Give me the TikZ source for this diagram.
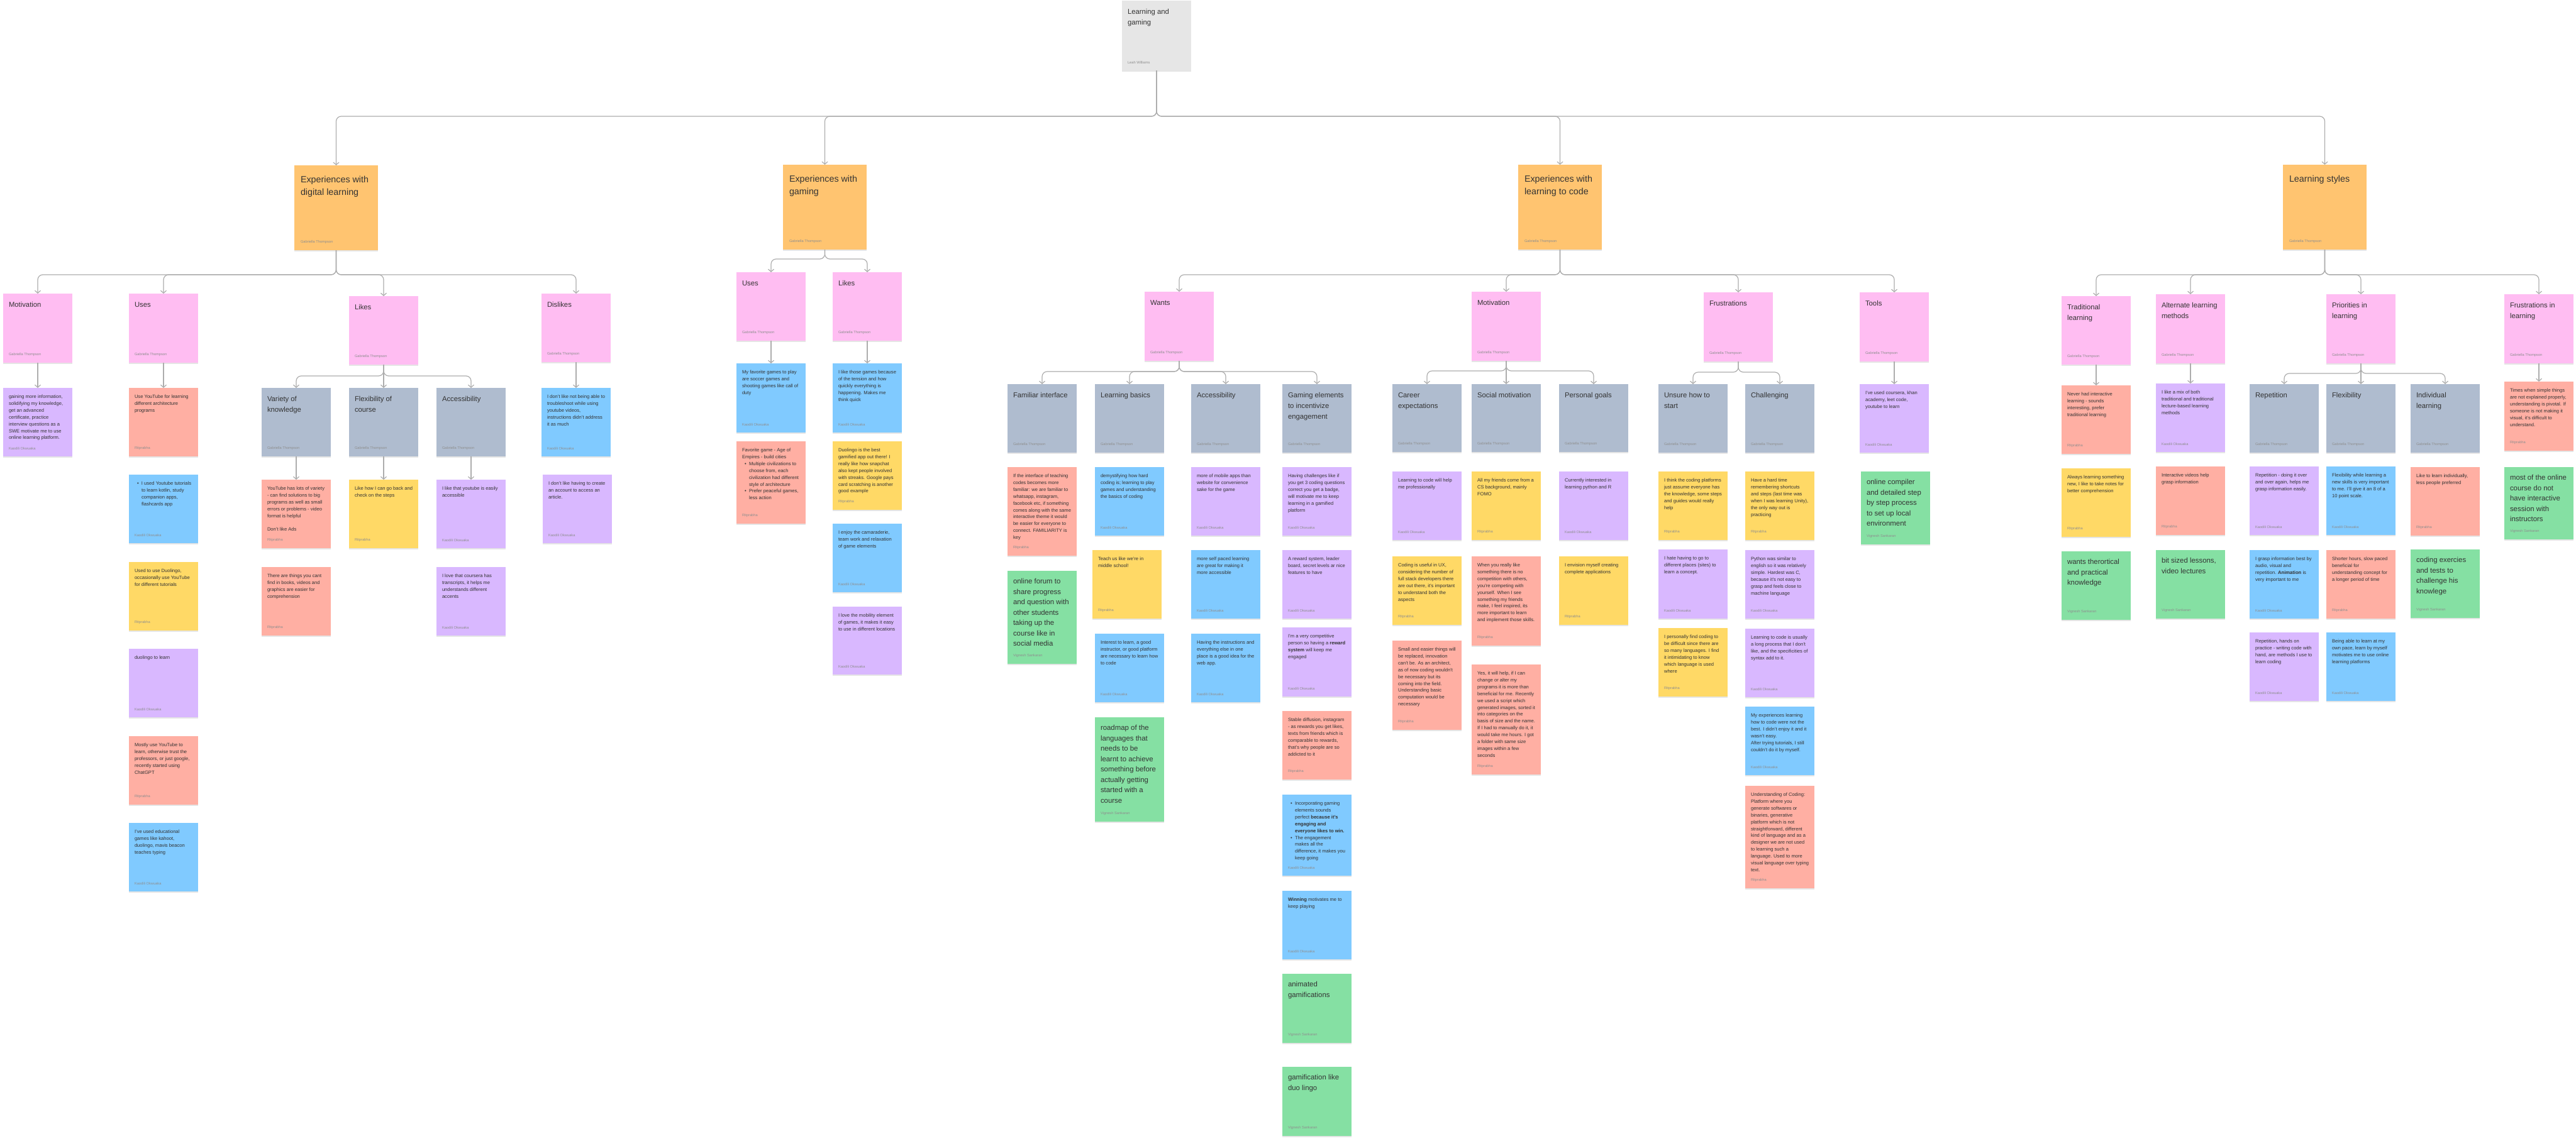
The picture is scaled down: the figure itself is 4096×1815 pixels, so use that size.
\documentclass[tikz,border=0pt]{standalone}
\usepackage{fontspec}
\setmainfont{Liberation Sans}
\usetikzlibrary{arrows.meta,shadows}

\definecolor{cgray}{HTML}{E6E6E6}
\definecolor{corange}{HTML}{FFC470}
\definecolor{cpink}{HTML}{FFBDF2}
\definecolor{cslate}{HTML}{AFBCCF}
\definecolor{cred}{HTML}{FFAFA3}
\definecolor{cyellow}{HTML}{FFD966}
\definecolor{cviolet}{HTML}{D9B8FF}
\definecolor{cblue}{HTML}{80CAFF}
\definecolor{cgreen}{HTML}{85E0A3}
\definecolor{cline}{HTML}{ADADAD}
\definecolor{ctext}{HTML}{333333}
\definecolor{cauthor}{HTML}{8F8F8F}

\newcommand{\bodyfont}{\fontsize{7.6pt}{10.9pt}\selectfont}
\newcommand{\headfont}{\fontsize{11.3pt}{16.7pt}\selectfont}
\newcommand{\greenfont}{\fontsize{11.4pt}{16.5pt}\selectfont}
\newcommand{\topfont}{\fontsize{14.3pt}{20pt}\selectfont}
\newcommand{\authorfont}{\fontsize{5.7pt}{6.5pt}\selectfont\color{cauthor}}

\newcommand{\nt}[3]{\parbox[c][#1pt][s]{92pt}{\raggedright\bodyfont\vspace*{11pt}#2\par\vfill{\authorfont #3\par}\vspace*{10pt}}}
\newcommand{\hd}[3]{\parbox[c][#1pt][s]{92pt}{\raggedright\headfont\vspace*{13.5pt}#2\par\vfill{\authorfont #3\par}\vspace*{10pt}}}
\newcommand{\gn}[3]{\parbox[c][#1pt][s]{92pt}{\raggedright\greenfont\vspace*{12.5pt}#2\par\vfill{\authorfont #3\par}\vspace*{10pt}}}
\newcommand{\tp}[3]{\parbox[c][#1pt][s]{113pt}{\raggedright\topfont\vspace*{17pt}#2\par\vfill{\authorfont #3\par}\vspace*{10pt}}}
\newcommand{\bul}[1]{\par\hangindent=11pt\hangafter=1\noindent\hbox to 11pt{\hskip4pt\textbullet\hss}#1}

\begin{document}
\begin{tikzpicture}[x=1pt,y=-1pt,
    note/.style={anchor=north west, inner xsep=9pt, inner ysep=0pt, outer sep=0pt, text=ctext,
      drop shadow={shadow xshift=0pt, shadow yshift=-1.5pt, fill=black, opacity=0.1}},
    topnote/.style={note, inner xsep=10pt},
    conn/.style={draw=cline, line width=1.2pt, rounded corners=8pt,
      -{Straight Barb[length=4pt,width=9pt]}}]
    \path[fill=white, use as bounding box] (0,0) rectangle (4096,1815);
    \def\ka{Kaodili Okwuaka}
    \def\ri{Ritprabha}
    \def\vi{Vignesh Sankaran}
    \def\ga{Gabriella Thompson}

    % root and first level
    \node[note, fill=cgray] (A0_0) at (1784,1) {\hd{111}{Learning and\\gaming}{Leah Williams}};
    \node[topnote, fill=corange] (A1_0) at (468,263) {\tp{135}{Experiences with\\digital learning}{\ga}};
    \node[topnote, fill=corange] (A1_1) at (1245,262) {\tp{135}{Experiences with\\gaming}{\ga}};
    \node[topnote, fill=corange] (A1_2) at (2414,262) {\tp{135}{Experiences with\\learning to code}{\ga}};
    \node[topnote, fill=corange] (A1_3) at (3630,262) {\tp{135}{Learning styles}{\ga}};

    % second level
    \node[note, fill=cpink] (A2_0) at (5,467) {\hd{110}{Motivation}{\ga}};
    \node[note, fill=cpink] (A2_1) at (205,467) {\hd{110}{Uses}{\ga}};
    \node[note, fill=cpink] (A2_2) at (555,471) {\hd{109}{Likes}{\ga}};
    \node[note, fill=cpink] (A2_3) at (861,467) {\hd{109}{Dislikes}{\ga}};
    \node[note, fill=cpink] (A2_4) at (1171,433) {\hd{109}{Uses}{\ga}};
    \node[note, fill=cpink] (A2_5) at (1324,433) {\hd{109}{Likes}{\ga}};
    \node[note, fill=cpink] (A2_6) at (1820,464) {\hd{110}{Wants}{\ga}};
    \node[note, fill=cpink] (A2_7) at (2340,464) {\hd{110}{Motivation}{\ga}};
    \node[note, fill=cpink] (A2_8) at (2709,465) {\hd{110}{Frustrations}{\ga}};
    \node[note, fill=cpink] (A2_9) at (2957,465) {\hd{110}{Tools}{\ga}};
    \node[note, fill=cpink] (A2_10) at (3278,471) {\hd{109}{Traditional\\learning}{\ga}};
    \node[note, fill=cpink] (A2_11) at (3428,468) {\hd{110}{Alternate learning\\methods}{\ga}};
    \node[note, fill=cpink] (A2_12) at (3699,468) {\hd{110}{Priorities in\\learning}{\ga}};
    \node[note, fill=cpink] (A2_13) at (3982,468) {\hd{110}{Frustrations in\\learning}{\ga}};

    % third level
    \node[note, fill=cslate] (A3_0) at (416,617) {\hd{109}{Variety of\\knowledge}{\ga}};
    \node[note, fill=cslate] (A3_1) at (555,617) {\hd{109}{Flexibility of\\course}{\ga}};
    \node[note, fill=cslate] (A3_2) at (694,617) {\hd{109}{Accessibility}{\ga}};
    \node[note, fill=cslate] (A3_3) at (1602,611) {\hd{109}{Familiar interface}{\ga}};
    \node[note, fill=cslate] (A3_4) at (1741,611) {\hd{109}{Learning basics}{\ga}};
    \node[note, fill=cslate] (A3_5) at (1894,611) {\hd{109}{Accessibility}{\ga}};
    \node[note, fill=cslate] (A3_6) at (2039,611) {\hd{109}{Gaming elements\\to incentivize\\engagement}{\ga}};
    \node[note, fill=cslate] (A3_7) at (2214,611) {\hd{108}{Career\\expectations}{\ga}};
    \node[note, fill=cslate] (A3_8) at (2340,611) {\hd{108}{Social motivation}{\ga}};
    \node[note, fill=cslate] (A3_9) at (2479,611) {\hd{108}{Personal goals}{\ga}};
    \node[note, fill=cslate] (A3_10) at (2637,611) {\hd{109}{Unsure how to\\start}{\ga}};
    \node[note, fill=cslate] (A3_11) at (2775,611) {\hd{109}{Challenging}{\ga}};
    \node[note, fill=cslate] (A3_12) at (3577,611) {\hd{109}{Repetition}{\ga}};
    \node[note, fill=cslate] (A3_13) at (3699,611) {\hd{109}{Flexibility}{\ga}};
    \node[note, fill=cslate] (A3_14) at (3833,611) {\hd{109}{Individual\\learning}{\ga}};

    % digital learning notes
    \node[note, fill=cviolet] (N0_0) at (5,617) {\nt{109}{gaining more information, solidifying my knowledge, get an advanced certificate, practice interview questions as a SWE motivate me to use online learning platform.}{\ka}};
    \node[note, fill=cred] (N1_0) at (205,617) {\nt{109}{Use YouTube for learning different architecture programs}{\ri}};
    \node[note, fill=cblue] (N1_1) at (205,755) {\nt{109}{\bul{I used Youtube tutorials to learn kotlin, study companion apps, flashcards app}}{\ka}};
    \node[note, fill=cyellow] (N1_2) at (205,894) {\nt{109}{Used to use Duolingo, occasionally use YouTube for different tutorials}{\ri}};
    \node[note, fill=cviolet] (N1_3) at (205,1032) {\nt{109}{duolingo to learn}{\ka}};
    \node[note, fill=cred] (N1_4) at (205,1171) {\nt{109}{Mostly use YouTube to learn, otherwise trust the professors, or just google, recently started using ChatGPT}{\ri}};
    \node[note, fill=cblue] (N1_5) at (205,1309) {\nt{109}{I've used educational games like kahoot, duolingo, mavis beacon teaches typing}{\ka}};
    \node[note, fill=cred] (N2_0) at (416,763) {\nt{109}{YouTube has lots of variety - can find solutions to big programs as well as small errors or problems - video format is helpful\par\vspace{10.9pt}Don't like Ads}{\ri}};
    \node[note, fill=cred] (N2_1) at (416,902) {\nt{109}{There are things you cant find in books, videos and graphics are easier for comprehension}{\ri}};
    \node[note, fill=cyellow] (N3_0) at (555,763) {\nt{109}{Like how I can go back and check on the steps}{\ri}};
    \node[note, fill=cviolet] (N4_0) at (694,763) {\nt{109}{I like that youtube is easily accessible}{\ka}};
    \node[note, fill=cviolet] (N4_1) at (694,902) {\nt{109}{I love that coursera has transcripts, it helps me understands different accents}{\ka}};
    \node[note, fill=cblue] (N5_0) at (861,617) {\nt{109}{I don't like not being able to troubleshoot while using youtube videos, instructions didn't address it as much}{\ka}};
    \node[note, fill=cviolet] (N5_1) at (863,755) {\nt{109}{I don't like having to create an account to access an article.}{\ka}};

    % gaming notes
    \node[note, fill=cblue] (N6_0) at (1171,578) {\nt{110}{My favorite games to play are soccer games and shooting games like call of duty}{\ka}};
    \node[note, fill=cred] (N6_1) at (1171,702) {\nt{131}{Favorite game - Age of Empires - build cities\bul{Multiple civilizations to choose from, each civilization had different style of architecture}\bul{Prefer peaceful games, less action}}{\ri}};
    \node[note, fill=cblue] (N7_0) at (1324,578) {\nt{110}{I like those games because of the tension and how quickly everything is happening. Makes me think quick}{\ka}};
    \node[note, fill=cyellow] (N7_1) at (1324,702) {\nt{109}{Duolingo is the best gamified app out there! I really like how snapchat also kept people involved with streaks. Google pays card scratching is another good example}{\ri}};
    \node[note, fill=cblue] (N7_2) at (1324,833) {\nt{109}{I enjoy the camaraderie, team work and relaxation of game elements}{\ka}};
    \node[note, fill=cviolet] (N7_3) at (1324,965) {\nt{108}{I love the mobility element of games, it makes it easy to use in different locations}{\ka}};

    % learning to code notes
    \node[note, fill=cred] (N8_0) at (1602,743) {\nt{141}{If the interface of teaching codes becomes more familiar: we are familiar to whatsapp, instagram, facebook etc, if something comes along with the same interactive theme it would be easier for everyone to connect. FAMILIARITY is key}{\ri}};
    \node[note, fill=cgreen] (N8_1) at (1602,908) {\gn{148}{online forum to\\share progress\\and question with\\other students\\taking up the\\course like in\\social media}{\vi}};
    \node[note, fill=cblue] (N9_0) at (1741,743) {\nt{109}{demystifying how hard coding is; learning to play games and understanding the basics of coding}{\ka}};
    \node[note, fill=cyellow] (N9_1) at (1737,875) {\nt{109}{Teach us like we're in middle school!}{\ri}};
    \node[note, fill=cblue] (N9_2) at (1741,1008) {\nt{109}{Interest to learn, a good instructor, or good platform are necessary to learn how to code}{\ka}};
    \node[note, fill=cgreen] (N9_3) at (1741,1141) {\gn{166}{roadmap of the\\languages that\\needs to be\\learnt to achieve\\something before\\actually getting\\started with a\\course}{\vi}};
    \node[note, fill=cviolet] (N10_0) at (1894,743) {\nt{109}{more of mobile apps than website for convenience sake for the game}{\ka}};
    \node[note, fill=cblue] (N10_1) at (1894,875) {\nt{109}{more self paced learning are great for making it more accessible}{\ka}};
    \node[note, fill=cblue] (N10_2) at (1894,1008) {\nt{109}{Having the instructions and everything else in one place is a good idea for the web app.}{\ka}};
    \node[note, fill=cviolet] (N11_0) at (2039,743) {\nt{109}{Having challenges like if you get 3 coding questions correct you get a badge, will motivate me to keep learning in a gamified platform}{\ka}};
    \node[note, fill=cviolet] (N11_1) at (2039,875) {\nt{109}{A reward system, leader board, secret levels ar nice features to have}{\ka}};
    \node[note, fill=cviolet] (N11_2) at (2039,998) {\nt{110}{I'm a very competitive person so having a \textbf{reward system} will keep me engaged}{\ka}};
    \node[note, fill=cred] (N11_3) at (2039,1131) {\nt{109}{Stable diffusion, instagram - as rewards you get likes, texts from friends which is comparable to rewards, that's why people are so addicted to it}{\ri}};
    \node[note, fill=cblue] (N11_4) at (2039,1264) {\nt{129}{\bul{Incorporating gaming elements sounds perfect \textbf{because it's engaging and everyone likes to win.}}\bul{The engagement makes all the difference, it makes you keep going}}{\ka}};
    \node[note, fill=cblue] (N11_5) at (2039,1417) {\nt{109}{\textbf{Winning} motivates me to keep playing}{\ka}};
    \node[note, fill=cgreen] (N11_6) at (2039,1549) {\gn{110}{animated\\gamifications}{\vi}};
    \node[note, fill=cgreen] (N11_7) at (2039,1697) {\gn{110}{gamification like\\duo lingo}{\vi}};
    \node[note, fill=cviolet] (N12_0) at (2214,750) {\nt{109}{Learning to code will help me professionally}{\ka}};
    \node[note, fill=cyellow] (N12_1) at (2214,885) {\nt{109}{Coding is useful in UX, considering the number of full stack developers there are out there, it's important to understand both the aspects}{\ri}};
    \node[note, fill=cred] (N12_2) at (2214,1019) {\nt{142}{Small and easier things will be replaced, innovation can't be. As an architect, as of now coding wouldn't be necessary but its coming into the field. Understanding basic computation would be necessary}{\ri}};
    \node[note, fill=cyellow] (N13_0) at (2340,750) {\nt{109}{All my friends come from a CS background, mainly FOMO}{\ri}};
    \node[note, fill=cred] (N13_1) at (2340,885) {\nt{142}{When you really like something there is no competition with others, you're competing with yourself. When I see something my friends make, I feel inspired, its more important to learn and implement those skills.}{\ri}};
    \node[note, fill=cred] (N13_2) at (2340,1057) {\nt{175}{Yes, it will help, if I can change or alter my programs it is more than beneficial for me. Recently we used a script which generated images, sorted it into categories on the basis of size and the name. If I had to manually do it, it would take me hours. I got a folder with same size images within a few seconds}{\ri}};
    \node[note, fill=cviolet] (N14_0) at (2479,750) {\nt{109}{Currently interested in learning python and R}{\ka}};
    \node[note, fill=cyellow] (N14_1) at (2479,885) {\nt{109}{I envision myself creating complete applications}{\ri}};
    \node[note, fill=cyellow] (N15_0) at (2637,750) {\nt{109}{I think the coding platforms just assume everyone has the knowledge, some steps and guides would really help}{\ri}};
    \node[note, fill=cviolet] (N15_1) at (2637,874) {\nt{110}{I hate having to go to different places (sites) to learn a concept.}{\ka}};
    \node[note, fill=cyellow] (N15_2) at (2637,999) {\nt{109}{I personally find coding to be difficult since there are so many languages. I find it intimidating to know which language is used where}{\ri}};
    \node[note, fill=cyellow] (N16_0) at (2775,750) {\nt{109}{Have a hard time remembering shortcuts and steps (last time was when I was learning Unity), the only way out is practicing}{\ri}};
    \node[note, fill=cviolet] (N16_1) at (2775,875) {\nt{109}{Python was similar to english so it was relatively simple. Hardest was C, because it's not easy to grasp and feels close to machine language}{\ka}};
    \node[note, fill=cviolet] (N16_2) at (2775,1000) {\nt{109}{Learning to code is usually a long process that I don't like, and the specificities of syntax add to it.}{\ka}};
    \node[note, fill=cblue] (N16_3) at (2775,1124) {\nt{109}{My experiences learning how to code were not the best. I didn't enjoy it and it wasn't easy.\par After trying tutorials, I still couldn't do it by myself.}{\ka}};
    \node[note, fill=cred] (N16_4) at (2775,1250) {\nt{163}{Understanding of Coding: Platform where you generate softwares or binaries, generative platform which is not straightforward, different kind of language and as a designer we are not used to learning such a language. Used to more visual language over typing text.}{\ri}};
    \node[note, fill=cviolet] (N17_0) at (2957,611) {\nt{109}{I've used coursera, khan academy, leet code, youtube to learn}{\ka}};
    \node[note, fill=cgreen] (N17_1) at (2959,750) {\gn{116}{online compiler\\and detailed step\\by step process\\to set up local\\environment}{\vi}};

    % learning styles notes
    \node[note, fill=cred] (N18_0) at (3278,613) {\nt{109}{Never had interactive learning - sounds interesting, prefer traditional learning}{\ri}};
    \node[note, fill=cyellow] (N18_1) at (3278,745) {\nt{109}{Always learning something new, I like to take notes for better comprehension}{\ri}};
    \node[note, fill=cgreen] (N18_2) at (3278,877) {\gn{109}{wants therortical\\and practical\\knowledge}{\vi}};
    \node[note, fill=cviolet] (N19_0) at (3428,610) {\nt{109}{I like a mix of both traditional and traditional lecture-based learning methods}{\ka}};
    \node[note, fill=cred] (N19_1) at (3428,742) {\nt{109}{Interactive videos help grasp information}{\ri}};
    \node[note, fill=cgreen] (N19_2) at (3428,875) {\gn{109}{bit sized lessons,\\video lectures}{\vi}};
    \node[note, fill=cviolet] (N20_0) at (3577,742) {\nt{109}{Repetition - doing it over and over again, helps me grasp information easily.}{\ka}};
    \node[note, fill=cblue] (N20_1) at (3577,875) {\nt{109}{I grasp information best by audio, visual and repetition. \textbf{Animation} is very important to me}{\ka}};
    \node[note, fill=cviolet] (N20_2) at (3577,1006) {\nt{109}{Repetition, hands on practice - writing code with hand, are methods I use to learn coding}{\ka}};
    \node[note, fill=cblue] (N21_0) at (3699,742) {\nt{109}{Flexibility while learning a new skills is very important to me. I'll give it an 8 of a 10 point scale.}{\ka}};
    \node[note, fill=cred] (N21_1) at (3699,875) {\nt{109}{Shorter hours, slow paced beneficial for understanding concept for a longer period of time}{\ri}};
    \node[note, fill=cblue] (N21_2) at (3699,1006) {\nt{109}{Being able to learn at my own pace, learn by myself motivates me to use online learning platforms}{\ka}};
    \node[note, fill=cred] (N22_0) at (3833,743) {\nt{109}{Like to learn individually, less people preferred}{\ri}};
    \node[note, fill=cgreen] (N22_1) at (3833,874) {\gn{109}{coding exercies\\and tests to\\challenge his\\knowlege}{\vi}};
    \node[note, fill=cred] (N23_0) at (3982,607) {\nt{110}{Times when simple things are not explained properly, understanding is pivotal. If someone is not making it visual, it's difficult to understand.}{\ri}};
    \node[note, fill=cgreen] (N23_1) at (3982,743) {\gn{115}{most of the online\\course do not\\have interactive\\session with\\instructors}{\vi}};

    % branch points
    \coordinate (J0_0) at (1839,185);
    \coordinate (J1_0) at (534.5,437);
    \coordinate (J1_1) at (1311.5,412);
    \coordinate (J1_2) at (2480.5,437);
    \coordinate (J1_3) at (3696.5,437);
    \coordinate (J2_2) at (610,598);
    \coordinate (J2_6) at (1875,591);
    \coordinate (J2_7) at (2395,590);
    \coordinate (J2_8) at (2764,592);
    \coordinate (J2_12) at (3754,594);

    % connectors
    \draw[conn] (A0_0.south) -- (J0_0) -| (A1_0.north);
    \draw[conn] (A0_0.south) -- (J0_0) -| (A1_1.north);
    \draw[conn] (A0_0.south) -- (J0_0) -| (A1_2.north);
    \draw[conn] (A0_0.south) -- (J0_0) -| (A1_3.north);
    \draw[conn] (A1_0.south) -- (J1_0) -| (A2_0.north);
    \draw[conn] (A1_0.south) -- (J1_0) -| (A2_1.north);
    \draw[conn] (A1_0.south) -- (J1_0) -| (A2_2.north);
    \draw[conn] (A1_0.south) -- (J1_0) -| (A2_3.north);
    \draw[conn] (A1_1.south) -- (J1_1) -| (A2_4.north);
    \draw[conn] (A1_1.south) -- (J1_1) -| (A2_5.north);
    \draw[conn] (A1_2.south) -- (J1_2) -| (A2_6.north);
    \draw[conn] (A1_2.south) -- (J1_2) -| (A2_7.north);
    \draw[conn] (A1_2.south) -- (J1_2) -| (A2_8.north);
    \draw[conn] (A1_2.south) -- (J1_2) -| (A2_9.north);
    \draw[conn] (A1_3.south) -- (J1_3) -| (A2_10.north);
    \draw[conn] (A1_3.south) -- (J1_3) -| (A2_11.north);
    \draw[conn] (A1_3.south) -- (J1_3) -| (A2_12.north);
    \draw[conn] (A1_3.south) -- (J1_3) -| (A2_13.north);
    \draw[conn] (A2_2.south) -- (J2_2) -| (A3_0.north);
    \draw[conn] (A2_2.south) -- (A3_1.north);
    \draw[conn] (A2_2.south) -- (J2_2) -| (A3_2.north);
    \draw[conn] (A2_6.south) -- (J2_6) -| (A3_3.north);
    \draw[conn] (A2_6.south) -- (J2_6) -| (A3_4.north);
    \draw[conn] (A2_6.south) -- (J2_6) -| (A3_5.north);
    \draw[conn] (A2_6.south) -- (J2_6) -| (A3_6.north);
    \draw[conn] (A2_7.south) -- (J2_7) -| (A3_7.north);
    \draw[conn] (A2_7.south) -- (A3_8.north);
    \draw[conn] (A2_7.south) -- (J2_7) -| (A3_9.north);
    \draw[conn] (A2_8.south) -- (J2_8) -| (A3_10.north);
    \draw[conn] (A2_8.south) -- (J2_8) -| (A3_11.north);
    \draw[conn] (A2_12.south) -- (J2_12) -| (A3_12.north);
    \draw[conn] (A2_12.south) -- (A3_13.north);
    \draw[conn] (A2_12.south) -- (J2_12) -| (A3_14.north);
    \draw[conn] (A2_0.south) -- (N0_0.north);
    \draw[conn] (A2_1.south) -- (N1_0.north);
    \draw[conn] (A3_0.south) -- (N2_0.north);
    \draw[conn] (A3_1.south) -- (N3_0.north);
    \draw[conn] (A3_2.south) -- (N4_0.north);
    \draw[conn] (A2_3.south) -- (N5_0.north);
    \draw[conn] (A2_4.south) -- (N6_0.north);
    \draw[conn] (A2_5.south) -- (N7_0.north);
    \draw[conn] (A2_9.south) -- (N17_0.north);
    \draw[conn] (A2_10.south) -- (N18_0.north);
    \draw[conn] (A2_11.south) -- (N19_0.north);
    \draw[conn] (A2_13.south) -- (N23_0.north);
\end{tikzpicture}
\end{document}
